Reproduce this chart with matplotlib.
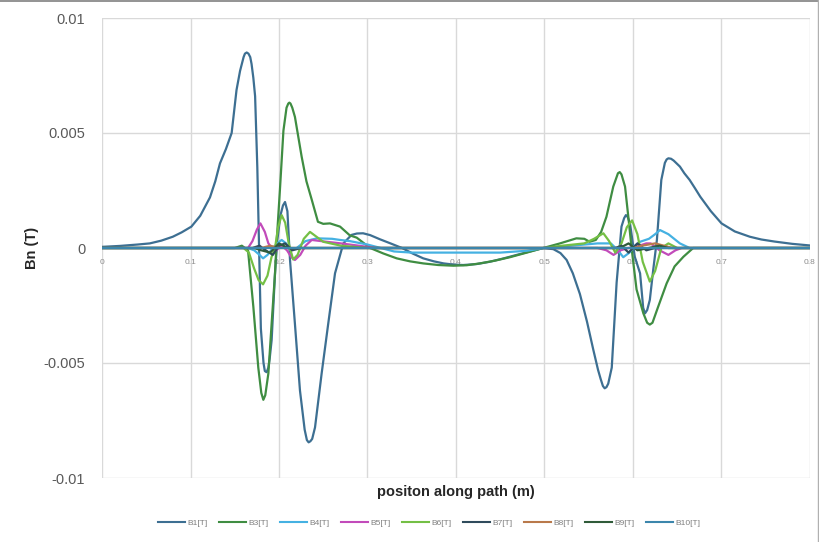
import matplotlib
matplotlib.use("Agg")
import matplotlib.pyplot as plt
from matplotlib.lines import Line2D

# ---- data (values in mT, scaled to T below) ----
b1_x = [0.0, 0.02, 0.04, 0.054, 0.067, 0.08, 0.09, 0.101, 0.111, 0.122, 0.128, 0.1333, 0.14, 0.1465,
        0.152, 0.156, 0.160, 0.1615, 0.1635, 0.1655, 0.1675, 0.169, 0.171, 0.173, 0.1755, 0.1775,
        0.1795, 0.1825, 0.184, 0.186, 0.188, 0.1895, 0.1917, 0.1955, 0.198, 0.2015, 0.2045, 0.2068,
        0.2095, 0.2124, 0.218, 0.2237, 0.229, 0.2315, 0.2335, 0.2355, 0.2375, 0.2407, 0.2482, 0.2557,
        0.2633, 0.2727, 0.282, 0.288, 0.295, 0.303, 0.314, 0.326, 0.339, 0.351, 0.363, 0.375, 0.386,
        0.397, 0.408, 0.423, 0.438, 0.453, 0.4686, 0.4986, 0.51, 0.518, 0.525, 0.532, 0.54, 0.548,
        0.555, 0.5605, 0.5635, 0.566, 0.568, 0.570, 0.572, 0.576, 0.5815, 0.587, 0.590, 0.592, 0.594,
        0.5966, 0.602, 0.608, 0.6115, 0.6136, 0.616, 0.619, 0.623, 0.627, 0.632, 0.636, 0.638, 0.640,
        0.643, 0.646, 0.653, 0.658, 0.664, 0.670, 0.676, 0.688, 0.700, 0.715, 0.732, 0.745, 0.76,
        0.78, 0.8]
b1_y = [0.05, 0.09, 0.15, 0.2, 0.32, 0.49, 0.68, 0.93, 1.4, 2.2, 2.9, 3.68, 4.3, 5.0,
        6.87, 7.7, 8.3, 8.45, 8.5, 8.45, 8.3, 8.0, 7.4, 6.6, 3.5, 0.0,
        -3.5, -5.0, -5.35, -5.4, -5.2, -4.8, -4.0, -1.1, 0.3, 1.4, 1.85, 2.0,
        1.6, -0.5, -3.3, -6.2, -7.9, -8.35, -8.45, -8.4, -8.3, -7.8, -5.45, -3.27,
        -1.1, 0.2, 0.57, 0.63, 0.64, 0.56, 0.38, 0.2, 0.0, -0.24, -0.45, -0.58, -0.67,
        -0.72, -0.74, -0.7, -0.6, -0.46, -0.3, 0.0, -0.05, -0.22, -0.52, -1.1, -2.0, -3.2,
        -4.4, -5.3, -5.7, -6.0, -6.1, -6.05, -5.9, -5.2, -1.5, 0.93, 1.3, 1.43, 1.35,
        1.07, -0.38, -1.1, -2.6, -2.84, -2.7, -2.26, -0.9, 0.35, 2.96, 3.7, 3.85, 3.9,
        3.88, 3.8, 3.54, 3.25, 2.96, 2.6, 2.23, 1.6, 1.07, 0.72, 0.49, 0.37, 0.28,
        0.18, 0.11]

b3_x = [0, 0.15, 0.158, 0.165, 0.171, 0.1766, 0.18, 0.1823, 0.1845, 0.188, 0.1917, 0.1955, 0.197,
        0.201, 0.205, 0.2085, 0.2105, 0.2117, 0.213, 0.215, 0.218, 0.2256, 0.231, 0.237, 0.244, 0.25,
        0.2576, 0.269, 0.28, 0.2878, 0.303, 0.318, 0.333, 0.348, 0.363, 0.38, 0.397, 0.412, 0.427,
        0.444, 0.461, 0.48, 0.4986, 0.5175, 0.536, 0.545, 0.551, 0.558, 0.564, 0.570, 0.5777, 0.583,
        0.585, 0.587, 0.591, 0.5947, 0.5985, 0.604, 0.6117, 0.616, 0.619, 0.622, 0.628, 0.638, 0.647,
        0.657, 0.668, 0.8]
b3_y = [0, 0, 0.1, -0.1, -2.55, -5.2, -6.3, -6.6, -6.4, -5.45, -3.27, -1.1, 0.06,
        2.5, 5.1, 6.1, 6.28, 6.32, 6.28, 6.1, 5.7, 3.97, 2.9, 2.1, 1.14, 1.05,
        1.07, 0.93, 0.55, 0.45, 0.0, -0.24, -0.45, -0.58, -0.67, -0.74, -0.77, -0.75, -0.67,
        -0.55, -0.4, -0.2, 0.0, 0.2, 0.42, 0.4, 0.27, 0.35, 0.7, 1.36, 2.67, 3.25,
        3.3, 3.2, 2.67, 1.36, -0.04, -1.8, -2.84, -3.25, -3.33, -3.25, -2.6, -1.54, -0.8,
        -0.38, 0.0, 0.0]

b4_x = [0, 0.165, 0.172, 0.178, 0.182, 0.187, 0.193, 0.198, 0.203, 0.208, 0.213, 0.22, 0.23, 0.243,
        0.26, 0.269, 0.28, 0.30, 0.315, 0.33, 0.35, 0.45, 0.48, 0.5, 0.53, 0.56, 0.575, 0.583, 0.589,
        0.596, 0.602, 0.608, 0.618, 0.625, 0.6305, 0.64, 0.653, 0.664, 0.8]
b4_y = [0, 0, -0.1, -0.3, -0.45, -0.3, 0.0, 0.2, 0.35, 0.2, -0.1, 0.0, 0.3, 0.42, 0.4, 0.35, 0.3,
        0.15, 0.0, -0.15, -0.2, -0.2, -0.12, 0.0, 0.1, 0.2, 0.2, -0.1, -0.4, -0.2, 0.1, 0.27, 0.4,
        0.6, 0.78, 0.6, 0.2, 0.0, 0.0]

b5_x = [0, 0.165, 0.17, 0.175, 0.179, 0.184, 0.188, 0.192, 0.197, 0.203, 0.209, 0.214, 0.218, 0.224,
        0.23, 0.237, 0.254, 0.27, 0.29, 0.31, 0.56, 0.57, 0.578, 0.586, 0.595, 0.607, 0.615, 0.62,
        0.63, 0.64, 0.648, 0.655, 0.8]
b5_y = [0, 0, 0.3, 0.8, 1.07, 0.7, 0.2, 0.0, -0.1, 0.1, -0.1, -0.4, -0.52, -0.3, 0.1, 0.35, 0.27,
        0.2, 0.1, 0.0, 0.0, -0.1, -0.3, -0.1, 0.0, 0.1, 0.2, 0.2, -0.1, -0.3, -0.1, 0.0, 0.0]

b6_x = [0, 0.16, 0.166, 0.172, 0.177, 0.182, 0.187, 0.1915, 0.1955, 0.199, 0.203, 0.207, 0.211,
        0.216, 0.221, 0.228, 0.235, 0.242, 0.25, 0.27, 0.30, 0.50, 0.52, 0.545, 0.556, 0.5665, 0.573,
        0.58, 0.587, 0.593, 0.599, 0.605, 0.611, 0.619, 0.625, 0.632, 0.64, 0.65, 0.8]
b6_y = [0, 0, -0.2, -0.9, -1.4, -1.58, -1.2, -0.4, 0.0, 0.9, 1.43, 1.1, 0.2, -0.5, -0.3, 0.4, 0.7,
        0.5, 0.27, 0.1, 0.0, 0.0, 0.1, 0.2, 0.4, 0.64, 0.3, -0.2, 0.2, 0.9, 1.2, 0.6, -0.6, -1.46,
        -1.0, 0.0, 0.2, 0.0, 0.0]

b7_x = [0, 0.17, 0.178, 0.185, 0.193, 0.2, 0.207, 0.215, 0.225, 0.58, 0.587, 0.595, 0.605, 0.615, 0.625, 0.8]
b7_y = [0, 0, 0.1, -0.1, -0.3, 0.1, 0.2, -0.1, 0, 0, 0.1, -0.2, 0.2, -0.1, 0, 0]

b8_x = [0, 0.18, 0.19, 0.2, 0.6, 0.61, 0.625, 0.635, 0.645, 0.8]
b8_y = [0, 0, 0.1, 0, 0, 0.1, 0.2, 0.1, 0, 0]

b9_x = [0, 0.172, 0.18, 0.19, 0.2, 0.21, 0.585, 0.595, 0.605, 0.63, 0.64, 0.8]
b9_y = [0, 0, -0.1, -0.2, 0.2, 0, 0, 0.2, -0.1, 0.1, 0, 0]

b10_x = [0, 0.2, 0.4, 0.6, 0.8]
b10_y = [0, 0, 0, 0, 0]

series_names = ["B1[T]", "B3[T]", "B4[T]", "B5[T]", "B6[T]", "B7[T]", "B8[T]", "B9[T]", "B10[T]"]
series_x = [b1_x, b3_x, b4_x, b5_x, b6_x, b7_x, b8_x, b9_x, b10_x]
series_y = [b1_y, b3_y, b4_y, b5_y, b6_y, b7_y, b8_y, b9_y, b10_y]
colors = ["#3D6F92", "#3F8D42", "#45B1E2", "#C24BBA", "#74BF45", "#2F4B5C", "#B9794B", "#2F5B39", "#3C86AC"]

x_ticks = [0, 0.1, 0.2, 0.3, 0.4, 0.5, 0.6, 0.7, 0.8]
x_tick_labels = ["0", "0.1", "0.2", "0.3", "0.4", "0.5", "0.6", "0.7", "0.8"]
y_ticks = [-0.01, -0.005, 0, 0.005, 0.01]
y_tick_labels = ["-0.01", "-0.005", "0", "0.005", "0.01"]

plt.rcParams['font.family'] = ['Liberation Sans', 'DejaVu Sans']

fig = plt.figure(figsize=(8.2, 5.42), dpi=100)
ax = fig.add_axes([102/820, 1 - 478/542, (810 - 102)/820, (478 - 18)/542])

for xs, ys, c, name in zip(series_x, series_y, colors, series_names):
    ax.plot(xs, [v / 1000 for v in ys], color=c, lw=1.6, label=name,
            solid_joinstyle='round', solid_capstyle='round')

ax.set_xlim(0, 0.8)
ax.set_ylim(-0.01, 0.01)
ax.set_yticks(y_ticks)
ax.set_yticklabels(y_tick_labels)
ax.set_xticks(x_ticks)
ax.set_xticklabels(x_tick_labels)
for s in ['top', 'right', 'left']:
    ax.spines[s].set_visible(False)
ax.spines['bottom'].set_position(('data', 0))
ax.spines['bottom'].set_visible(False)
ax.grid(True, color='#D9D9D9', lw=1.0, zorder=0)
ax.set_axisbelow(True)
ax.tick_params(axis='y', length=0, pad=12, labelsize=10.5, labelcolor='#595959')
ax.tick_params(axis='x', length=0, pad=8, labelsize=6, labelcolor='#8C8C8C')

fig.text(32/820, 1 - 248/542, "Bn (T)", rotation=90, ha='center', va='center',
         fontsize=10.5, fontweight='bold', color='#262626')
fig.text(456/820, 1 - 492/542, "positon along path (m)", ha='center', va='center',
         fontsize=10.5, fontweight='bold', color='#262626')

handles = [Line2D([0], [0], color=c, lw=1.5) for c in colors]
fig.legend(handles, series_names, loc='center', bbox_to_anchor=(429/820, 1 - 523/542), ncol=9,
           frameon=False, fontsize=6, labelcolor='#7F7F7F', handlelength=3.2, handletextpad=0.3,
           columnspacing=1.4)

fig.add_artist(Line2D([0, 1], [1 - 1/542, 1 - 1/542], color='#808080', lw=1.2, transform=fig.transFigure))
fig.add_artist(Line2D([1 - 2/820, 1 - 2/820], [0, 1], color='#B0B0B0', lw=1.0, transform=fig.transFigure))

fig.savefig("out.png", dpi=100)
